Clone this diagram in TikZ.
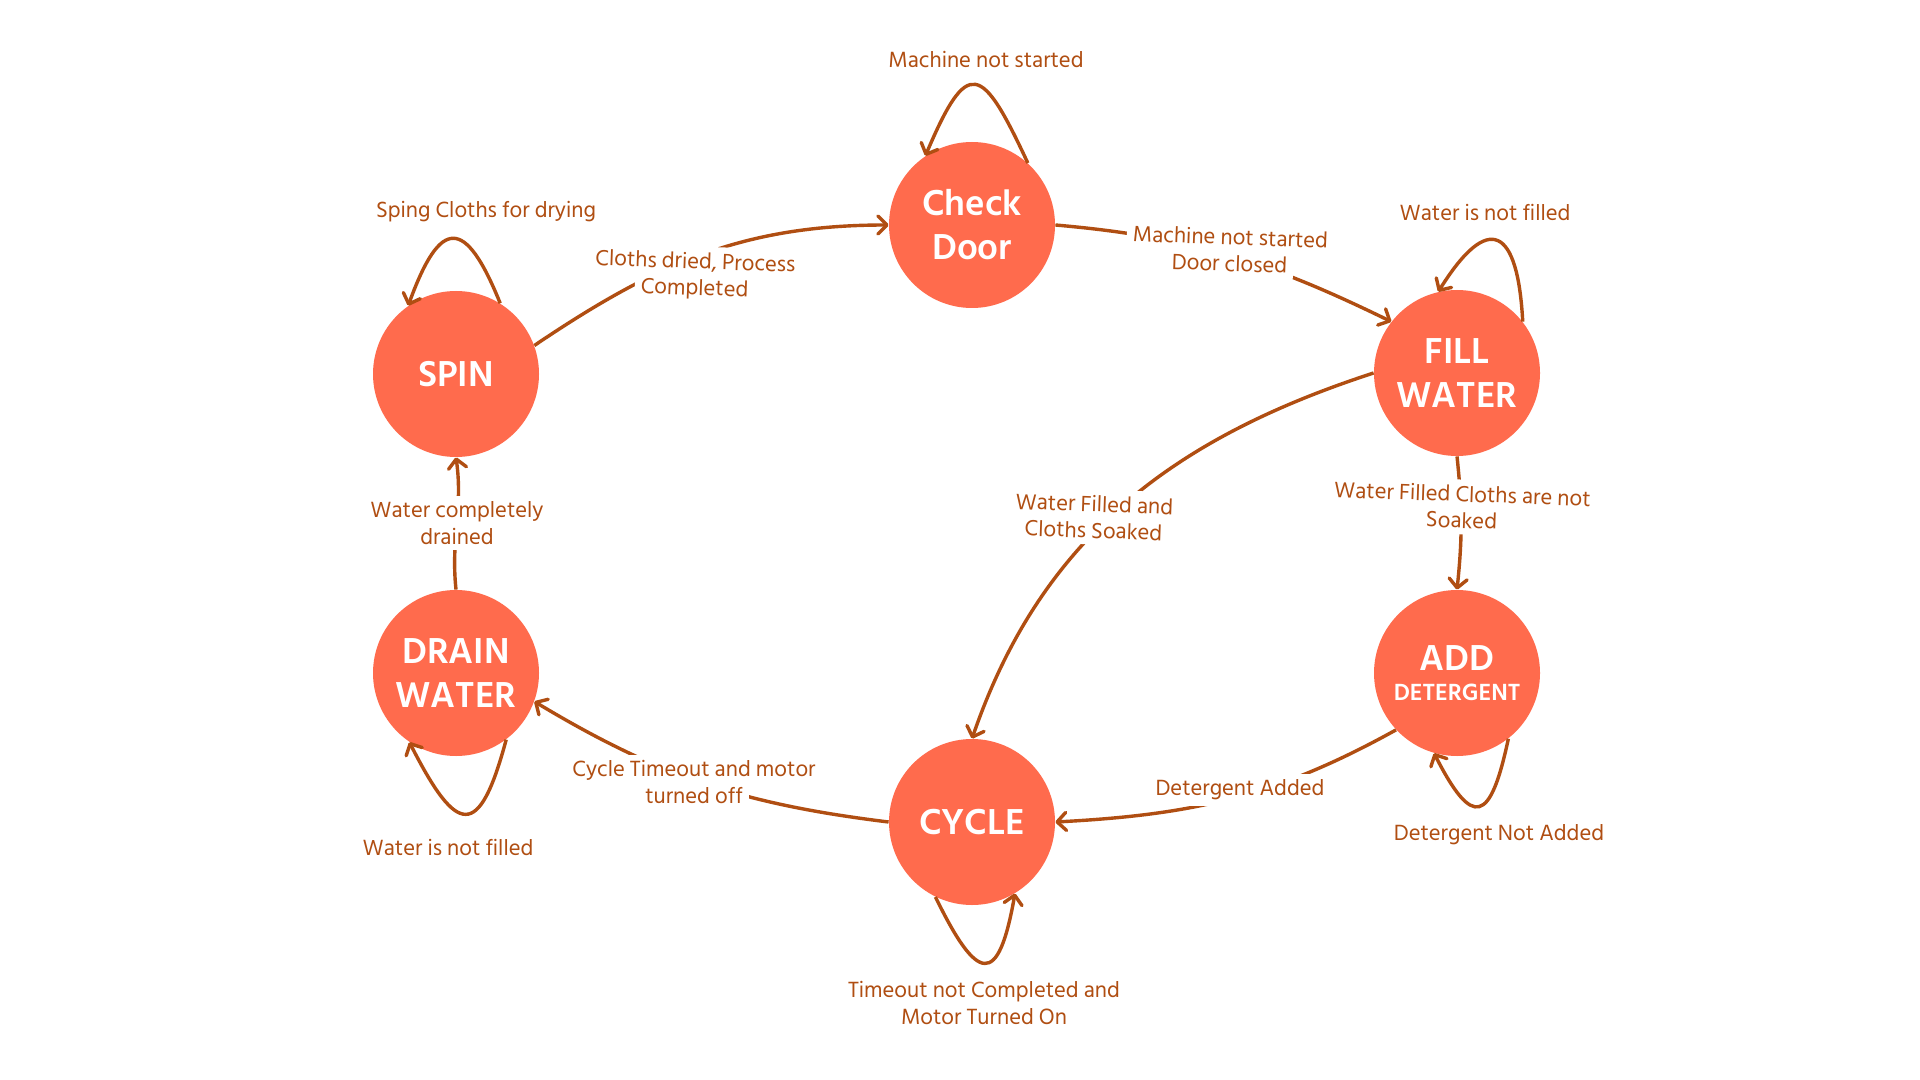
\documentclass[tikz,border=0pt]{standalone}
\usepackage{fontspec}
\setmainfont{Hind Siliguri}
\usetikzlibrary{arrows.meta}
\definecolor{circ}{HTML}{FF6B4D}
\definecolor{edgec}{HTML}{B04E12}
\newcommand{\lline}[1]{{\setlength{\fboxsep}{3pt}\colorbox{white}{#1}}}
\begin{document}
\begin{tikzpicture}[x=0.5pt,y=0.5pt,
  state/.style={circle,fill=circ,minimum size=83pt,inner sep=0pt,text=white,
    font=\fontsize{18.5}{22}\selectfont\bfseries,align=center},
  conn/.style={draw=edgec,line width=1.7pt,
    -{Straight Barb[length=4.5pt,width=9pt,line join=round,line cap=round]}},
  lbl/.style={text=edgec,font={\fontsize{11.3}{13.2}\selectfont\lineskiplimit=-100pt\lineskip=0pt},
    align=center,inner sep=0pt}]
\useasboundingbox (0,0) rectangle (1920,-1080);
\fill[white] (0,0) rectangle (1920,-1080);

\node[state] (CD) at (972,-225) {Check\\Door};
\node[state] (FW) at (1457,-373) {FILL\\WATER};
\node[state] (SP) at (456,-374) {SPIN};
\node[state] (DW) at (456,-673) {DRAIN\\WATER};
\node[state] (CY) at (972,-822) {CYCLE};
\node[state] (AD) at (1457,-673) {ADD\\[-7pt]{\fontsize{12}{13}\selectfont DETERGENT}};

\draw[conn] (CD.48) .. controls +(115:109) and +(67:109) .. (CD.124);
\draw[conn] (CD.east) to[out=-5,in=154] (FW.142);
\draw[conn] (FW.38) .. controls +(93:95) and +(58:95) .. (FW.103);
\draw[conn] (FW.south) to[out=-84,in=84] (AD.north);
\draw[conn] (FW.west) to[out=-162,in=71] (CY.north);
\draw[conn] (AD.-137) to[out=-151,in=3] (CY.east);
\draw[conn] (AD.-52) .. controls +(-102:86) and +(-63:86) .. (AD.-106);
\draw[conn] (CY.west) to[out=173,in=-31] (DW.-20);
\draw[conn] (DW.-53) .. controls +(-105:105) and +(-63:105) .. (DW.-124);
\draw[conn] (DW.north) to[out=96,in=-82] (SP.south);
\draw[conn] (SP.58) .. controls +(112:94) and +(70:94) .. (SP.125);
\draw[conn] (SP.20) to[out=34,in=180] (CD.west);
\draw[conn] (CY.-116) .. controls +(-64:96) and +(-100:96) .. (CY.-59);

\node[lbl] (l1) at (986,-60) {\lline{Machine not started}};
\node[lbl,rotate=-2] (l2) at (1230,-250) {\lline{Machine not started}\\\lline{Door closed}};
\node[lbl] (l3) at (1485,-212) {\lline{Water is not filled}};
\node[lbl,rotate=-2] (l4) at (1462,-507) {\lline{Water Filled Cloths are not}\\\lline{Soaked}};
\node[lbl,rotate=-2] (l5) at (1094,-517) {\lline{Water Filled and}\\\lline{Cloths Soaked}};
\node[lbl] (l6) at (1240,-790) {\lline{Detergent Added}};
\node[lbl] (l7) at (1499,-835) {\lline{Detergent Not Added}};
\node[lbl] (l8) at (984,-1003) {\lline{Timeout not Completed and}\\\lline{Motor Turned On}};
\node[lbl] (l9) at (694,-782) {\lline{Cycle Timeout and motor}\\\lline{turned off}};
\node[lbl] (l10) at (448,-847) {\lline{Water is not filled}};
\node[lbl] (l11) at (457,-523) {\lline{Water completely}\\\lline{drained}};
\node[lbl] (l12) at (486,-212) {\lline{Sping Cloths for drying}};
\node[lbl,rotate=-2] (l13) at (695,-276) {\lline{Cloths dried, Process}\\\lline{Completed}};
\end{tikzpicture}
\end{document}
